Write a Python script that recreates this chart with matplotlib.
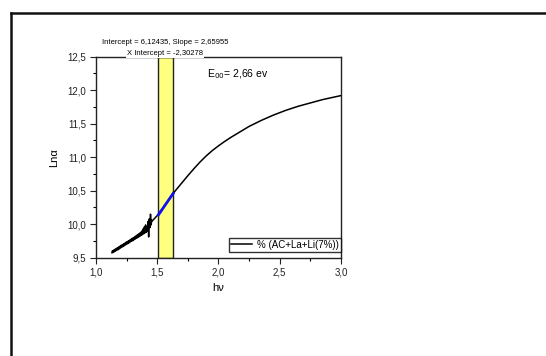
import matplotlib
matplotlib.use("Agg")
import matplotlib.pyplot as plt
from matplotlib.lines import Line2D
from matplotlib.ticker import FuncFormatter, MultipleLocator

plt.rcParams['font.family'] = ['Liberation Sans', 'DejaVu Sans']

# Absorption edge data: photon energy (eV) and ln(alpha)
hv = [1.130, 1.135, 1.140, 1.145, 1.150, 1.155, 1.160, 1.165, 1.170, 1.175,
      1.180, 1.185, 1.190, 1.195, 1.200, 1.205, 1.210, 1.215, 1.220, 1.225,
      1.230, 1.235, 1.240, 1.245, 1.250, 1.255, 1.260, 1.265, 1.270, 1.275,
      1.280, 1.285, 1.290, 1.295, 1.300, 1.305, 1.310, 1.315, 1.320, 1.325,
      1.330, 1.335, 1.340, 1.345, 1.350, 1.355, 1.360, 1.365, 1.370, 1.375,
      1.380, 1.385, 1.390, 1.395, 1.400, 1.405, 1.410, 1.415, 1.420, 1.425,
      1.430, 1.435, 1.440, 1.445, 1.450, 1.455, 1.460,
      1.50, 1.55, 1.60, 1.63, 1.70, 1.75, 1.80, 1.85, 1.90, 1.95, 2.00,
      2.05, 2.10, 2.15, 2.20, 2.25, 2.30, 2.35, 2.40, 2.45, 2.50, 2.55,
      2.60, 2.65, 2.70, 2.75, 2.80, 2.85, 2.90, 2.95, 3.00]
ln_alpha = [9.575, 9.605, 9.578, 9.615, 9.590, 9.625, 9.600, 9.638, 9.612, 9.650,
            9.620, 9.662, 9.632, 9.672, 9.645, 9.685, 9.655, 9.695, 9.668, 9.708,
            9.678, 9.718, 9.690, 9.730, 9.700, 9.742, 9.712, 9.752, 9.722, 9.765,
            9.735, 9.775, 9.745, 9.788, 9.755, 9.800, 9.768, 9.812, 9.778, 9.825,
            9.790, 9.838, 9.800, 9.850, 9.812, 9.865, 9.822, 9.880, 9.835, 9.900,
            9.845, 9.930, 9.860, 9.960, 9.870, 9.990, 9.880, 9.960, 9.900, 10.040,
            9.810, 10.080, 9.950, 10.150, 9.990, 10.060, 10.050,
            10.130, 10.250, 10.380, 10.460, 10.615, 10.725, 10.830, 10.930, 11.020,
            11.100, 11.170, 11.235, 11.295, 11.350, 11.405, 11.460, 11.505, 11.550,
            11.590, 11.630, 11.665, 11.700, 11.730, 11.760, 11.785, 11.810, 11.835,
            11.860, 11.880, 11.900, 11.920]

# Linear fit over the highlighted range
intercept = 6.12435
slope = 2.65955
x_intercept = -2.30278
fit_range = [1.51, 1.63]
E00_label = "2,66 ev"
series_label = "% (AC+La+Li(7%))"

x_ticks = [1.0, 1.5, 2.0, 2.5, 3.0]
y_ticks = [9.5, 10.0, 10.5, 11.0, 11.5, 12.0, 12.5]

fig = plt.figure(figsize=(5.46, 3.56), dpi=100)
ax = fig.add_axes([0.1758, 0.276, 0.4487, 0.5647])

# Outer frame lines of the page
fig.add_artist(Line2D([11 / 546, 1.0], [1 - 13 / 356, 1 - 13 / 356],
                      transform=fig.transFigure, color='#111111', lw=1.8))
fig.add_artist(Line2D([11 / 546, 11 / 546], [0.0, 1 - 13 / 356],
                      transform=fig.transFigure, color='#111111', lw=1.8))

ax.axvspan(fit_range[0], fit_range[1], facecolor='#ffff80', edgecolor='#222222',
           lw=1.0, zorder=1)

ax.plot(hv, ln_alpha, color='black', lw=1.1, zorder=3, label=series_label)

fit_y = [intercept + slope * x for x in fit_range]
ax.plot(fit_range, fit_y, color='#1010ee', lw=2.0, zorder=4)

ax.set_xlim(1.0, 3.0)
ax.set_ylim(9.5, 12.5)
ax.set_xticks(x_ticks)
ax.set_yticks(y_ticks)
ax.xaxis.set_minor_locator(MultipleLocator(0.25))
ax.yaxis.set_minor_locator(MultipleLocator(0.25))
fmt = FuncFormatter(lambda v, p: f"{v:.1f}".replace('.', ','))
ax.xaxis.set_major_formatter(fmt)
ax.yaxis.set_major_formatter(fmt)
ax.tick_params(which='major', direction='out', length=4, width=0.8,
               labelsize=7, colors='#222222', pad=3)
ax.tick_params(which='minor', direction='out', length=2.5, width=0.8)
for s in ax.spines.values():
    s.set_linewidth(1.0)
    s.set_color('#222222')

ax.set_xlabel("h\u03bd", fontsize=8, labelpad=4)
ax.set_ylabel("Ln\u03b1", fontsize=8, labelpad=6)

ax.text(1.91, 12.24, r"E$_{00}$= " + E00_label, fontsize=7.5, ha='left', va='center')

fmt_num = lambda v: f"{v:.5f}".replace('.', ',')
ax.text(165 / 546, 1 - 43 / 356,
        f"Intercept = {fmt_num(intercept)}, Slope = {fmt_num(slope)}",
        transform=fig.transFigure, fontsize=5.5, ha='center', va='center')
ax.text(165 / 546, 1 - 53.5 / 356, f"X Intercept = {fmt_num(x_intercept)}",
        transform=fig.transFigure, fontsize=5.5, ha='center', va='center',
        bbox=dict(facecolor='white', edgecolor='none', pad=0.8), zorder=10)

leg = ax.legend(loc='lower right', bbox_to_anchor=(1.0, 0.03), fontsize=7,
                frameon=True, fancybox=False, handlelength=2.2,
                borderpad=0.2, handletextpad=0.5, borderaxespad=0.0)
leg.get_frame().set_edgecolor('black')
leg.get_frame().set_linewidth(1.0)

fig.savefig("out.png", dpi=100)
